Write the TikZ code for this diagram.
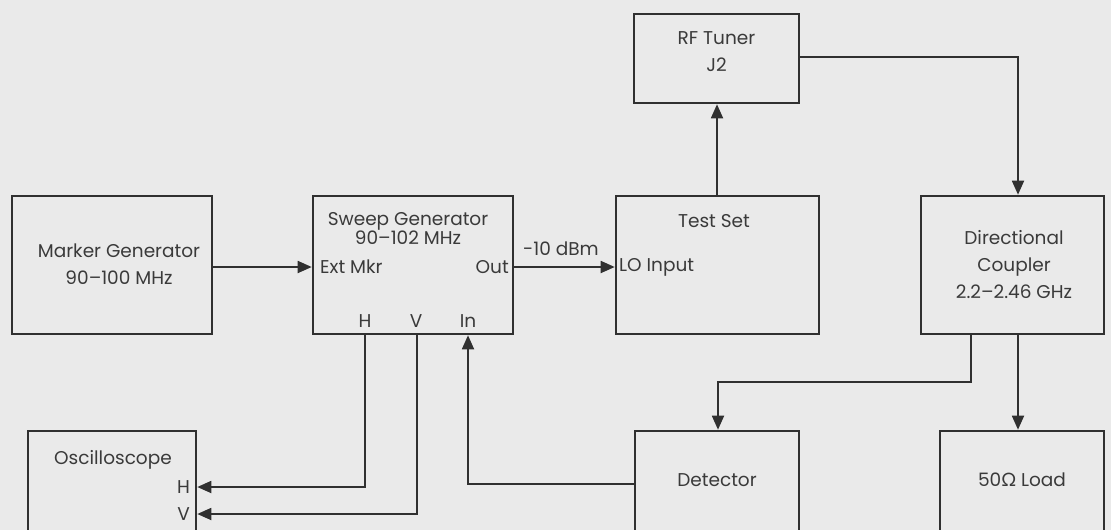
\documentclass[tikz,border=0pt]{standalone}
\usepackage{fontspec}
\setmainfont{Poppins}
\newfontfamily\omegafont{Lato}
\usetikzlibrary{arrows.meta}
\definecolor{bg}{HTML}{EAEAEA}
\definecolor{ink}{HTML}{303030}
\definecolor{txt}{HTML}{3A3A3A}
\tikzset{
  box/.style={draw=ink, line width=2.6pt, rectangle, inner sep=0pt},
  lbl/.style={text=txt, font=\fontsize{18.5}{27}\selectfont, inner sep=0pt},
  conn/.style={draw=ink, line width=1.8pt},
  arr/.style={conn, -{Triangle[length=14pt,width=12pt]}}
}
\begin{document}
\begin{tikzpicture}[x=1pt,y=-1pt]
\useasboundingbox (0,0) rectangle (1111,530);
\fill[bg] (0,0) rectangle (1111,530);
\clip (0,0) rectangle (1111,530);
% boxes
\node[box, minimum width=200pt, minimum height=138pt] (marker) at (112,265) {};
\node[box, minimum width=200pt, minimum height=138pt] (sweep) at (413,265) {};
\node[box, minimum width=203pt, minimum height=138pt] (test) at (717.5,265) {};
\node[box, minimum width=183pt, minimum height=138pt] (coupler) at (1012.5,265) {};
\node[box, minimum width=165pt, minimum height=89pt] (rf) at (716.5,58.5) {};
\node[box, minimum width=168pt, minimum height=160pt] (osc) at (112,511) {};
\node[box, minimum width=164pt, minimum height=160pt] (det) at (717,511) {};
\node[box, minimum width=164pt, minimum height=160pt] (load) at (1022,511) {};
% texts
\node[lbl, align=center] (tmarker) at (119,264) {Marker Generator\\90–100 MHz};
\node[lbl, align=center, font=\fontsize{18.5}{19}\selectfont] (tsweep) at (408,228) {Sweep Generator\\90–102 MHz};
\node[lbl, anchor=west] (textmkr) at (320,267) {Ext Mkr};
\node[lbl, anchor=east] (tout) at (509,267) {Out};
\node[lbl] (tsh) at (365,321) {H};
\node[lbl] (tsv) at (416,321) {V};
\node[lbl] (tsin) at (468,321) {In};
\node[lbl] (tdbm) at (561,249) {-10 dBm};
\node[lbl] (ttest) at (714,221) {Test Set};
\node[lbl, anchor=west] (tlo) at (619,267) {LO Input};
\node[lbl, align=center] (trf) at (716.5,52) {RF Tuner\\J2};
\node[lbl, align=center] (tcoup) at (1014,265) {Directional\\Coupler\\2.2–2.46 GHz};
\node[lbl] (tosc) at (113,460) {Oscilloscope};
\node[lbl, anchor=east] (toh) at (190,487) {H};
\node[lbl, anchor=east] (tov) at (190,514) {V};
\node[lbl] (tdet) at (717,480) {Detector};
\node[lbl] (tload) at (1022,480) {50{\omegafont Ω} Load};
% connector coordinates
\coordinate (ya) at (0,267);
\coordinate (xs) at (717,0);
\coordinate (yrf) at (0,57);
\coordinate (xr) at (1018,0);
\coordinate (xc) at (971,0);
\coordinate (yc) at (0,382);
\coordinate (xd) at (718,0);
\coordinate (ydet) at (0,484);
\coordinate (xin) at (468,0);
\coordinate (xh) at (365,0);
\coordinate (xv) at (417,0);
\coordinate (yh) at (0,487);
\coordinate (yv) at (0,514);
% connectors
\draw[arr] (marker.east |- ya) -- (sweep.west |- ya);
\draw[arr] (sweep.east |- ya) -- (test.west |- ya);
\draw[arr] (test.north -| xs) -- (rf.south -| xs);
\draw[arr] (rf.east |- yrf) -| (coupler.north -| xr);
\draw[arr] (coupler.south -| xc) |- (xd |- yc) -- (det.north -| xd);
\draw[arr] (coupler.south -| xr) -- (load.north -| xr);
\draw[arr] (det.west |- ydet) -| (sweep.south -| xin);
\draw[arr] (sweep.south -| xh) |- (osc.east |- yh);
\draw[arr] (sweep.south -| xv) |- (osc.east |- yv);
\end{tikzpicture}
\end{document}
